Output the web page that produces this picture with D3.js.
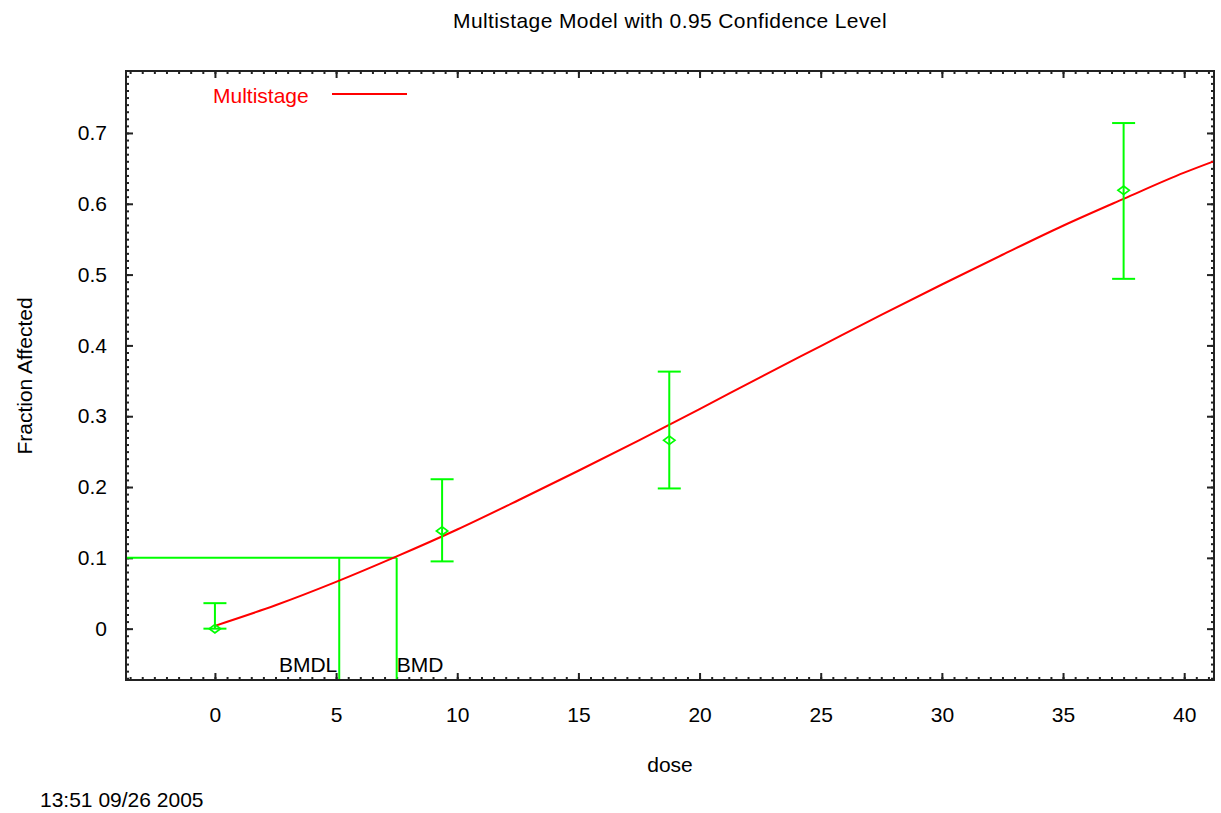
<!DOCTYPE html>
<html>
<head>
<meta charset="utf-8">
<script src="https://cdn.jsdelivr.net/npm/d3@7"></script>
<style>
  body { margin: 0; background: #fff; }
  svg { display: block; }
  text { font-family: "Liberation Sans", Arial, sans-serif; font-size: 21px; fill: #000; }
</style>
</head>
<body>
<svg id="chart" width="1221" height="813"></svg>
<script>
// observed dose groups with 95% confidence limits
const doses = [0, 9.375, 18.75, 37.5];
const observed = [0, 0.138, 0.266, 0.619];
const lowerCI = [0, 0.095, 0.198, 0.494];
const upperCI = [0.036, 0.211, 0.363, 0.714];

// fitted multistage curve
const curveDose = [0, 2.5, 5, 7.5, 10, 12.5, 15, 17.5, 20, 22.5, 25, 27.5, 30, 32.5, 35, 37.5, 40, 41.3];
const curveFrac = [0.004, 0.033, 0.066, 0.102, 0.140, 0.181, 0.223, 0.266, 0.310, 0.355, 0.399, 0.443, 0.486, 0.528, 0.569, 0.607, 0.644, 0.661];

// benchmark values
const bmr = 0.1;
const bmdl = 5.13;
const bmd = 7.5;

const xTicks = [0, 5, 10, 15, 20, 25, 30, 35, 40];
const yTicks = [0, 0.1, 0.2, 0.3, 0.4, 0.5, 0.6, 0.7];

const title = "Multistage Model with 0.95 Confidence Level";
const timestamp = "13:51 09/26 2005";

const margin = { top: 71, left: 126 };
const width = 1088, height = 609;

const svg = d3.select("#chart");

const x = d3.scaleLinear().domain([-3.67, 41.23]).range([0, width]);
const y = d3.scaleLinear().domain([-0.0725, 0.7875]).range([height, 0]);

const g = svg.append("g").attr("transform", `translate(${margin.left},${margin.top})`);

g.append("clipPath").attr("id", "plot-clip")
  .append("rect").attr("width", width).attr("height", height);

// minor ticks on all four sides
const xMinor = d3.range(-3.5, 41.1, 0.5);
const yMinor = d3.range(-7, 79).map(d => d / 100);

function styleAxis(sel) {
  sel.select(".domain").remove();
  sel.selectAll(".tick line").attr("stroke", "#222").attr("stroke-width", 2);
  sel.selectAll(".tick text").attr("fill", "#000").style("font-size", "21px")
    .style("font-family", '"Liberation Sans", Arial, sans-serif');
}

g.append("g").attr("transform", `translate(0,${height})`)
  .call(d3.axisBottom(x).tickValues(xMinor).tickSize(-3).tickFormat(""))
  .call(styleAxis);
g.append("g")
  .call(d3.axisTop(x).tickValues(xMinor).tickSize(-3).tickFormat(""))
  .call(styleAxis);
g.append("g")
  .call(d3.axisLeft(y).tickValues(yMinor).tickSize(-3).tickFormat(""))
  .call(styleAxis);
g.append("g").attr("transform", `translate(${width},0)`)
  .call(d3.axisRight(y).tickValues(yMinor).tickSize(-3).tickFormat(""))
  .call(styleAxis);

// major ticks + labels
g.append("g").attr("transform", `translate(0,${height})`)
  .call(d3.axisBottom(x).tickValues(xTicks).tickSize(-7).tickPadding(27).tickFormat(d3.format("d")))
  .call(styleAxis);
g.append("g")
  .call(d3.axisTop(x).tickValues(xTicks).tickSize(-7).tickFormat(""))
  .call(styleAxis);
g.append("g")
  .call(d3.axisLeft(y).tickValues(yTicks).tickSize(-7).tickPadding(19)
    .tickFormat(d => d === 0 ? "0" : d3.format(".1f")(d)))
  .call(styleAxis);
g.append("g").attr("transform", `translate(${width},0)`)
  .call(d3.axisRight(y).tickValues(yTicks).tickSize(-7).tickFormat(""))
  .call(styleAxis);

const plot = g.append("g").attr("clip-path", "url(#plot-clip)");

// BMD / BMDL guide lines
const green = "#00ff00";
plot.append("line")
  .attr("x1", 0).attr("x2", x(bmd))
  .attr("y1", y(bmr)).attr("y2", y(bmr))
  .attr("stroke", green).attr("stroke-width", 2);
[bmdl, bmd].forEach(v => {
  plot.append("line")
    .attr("x1", x(v)).attr("x2", x(v))
    .attr("y1", y(bmr)).attr("y2", height)
    .attr("stroke", green).attr("stroke-width", 2);
});

// model curve
const curve = curveDose.map((d, i) => ({ dose: d, frac: curveFrac[i] }));
plot.append("path")
  .datum(curve)
  .attr("fill", "none")
  .attr("stroke", "#ff0000")
  .attr("stroke-width", 2)
  .attr("d", d3.line().x(d => x(d.dose)).y(d => y(d.frac)).curve(d3.curveMonotoneX));

// error bars + observed points
const points = doses.map((d, i) => ({ dose: d, obs: observed[i], lo: lowerCI[i], hi: upperCI[i] }));
const cap = 11.5;
const bars = plot.selectAll(".errbar").data(points).join("g").attr("class", "errbar");
bars.append("line")
  .attr("x1", d => x(d.dose)).attr("x2", d => x(d.dose))
  .attr("y1", d => y(d.lo)).attr("y2", d => y(d.hi))
  .attr("stroke", green).attr("stroke-width", 2);
bars.append("line")
  .attr("x1", d => x(d.dose) - cap).attr("x2", d => x(d.dose) + cap)
  .attr("y1", d => y(d.hi)).attr("y2", d => y(d.hi))
  .attr("stroke", green).attr("stroke-width", 2);
bars.append("line")
  .attr("x1", d => x(d.dose) - cap).attr("x2", d => x(d.dose) + cap)
  .attr("y1", d => y(d.lo)).attr("y2", d => y(d.lo))
  .attr("stroke", green).attr("stroke-width", 2);
// marker: wide open diamond
bars.append("path")
  .attr("transform", d => `translate(${x(d.dose)},${y(d.obs)}) scale(1.35,1)`)
  .attr("d", d3.symbol(d3.symbolDiamond2, 45))
  .attr("fill", "none")
  .attr("stroke", green).attr("stroke-width", 1.5);

// frame
g.append("rect")
  .attr("width", width).attr("height", height)
  .attr("fill", "none").attr("stroke", "#222").attr("stroke-width", 2);

// BMD labels
g.append("text").attr("x", x(bmdl) - 2).attr("y", 672 - margin.top)
  .attr("text-anchor", "end").text("BMDL");
g.append("text").attr("x", x(bmd)).attr("y", 672 - margin.top)
  .text("BMD");

// legend
g.append("text").attr("x", 213 - margin.left).attr("y", 103 - margin.top)
  .style("fill", "#ff0000").text("Multistage");
g.append("line")
  .attr("x1", 332 - margin.left).attr("x2", 407 - margin.left)
  .attr("y1", 94 - margin.top).attr("y2", 94 - margin.top)
  .attr("stroke", "#ff0000").attr("stroke-width", 2);

// titles
svg.append("text").attr("x", 670).attr("y", 28)
  .attr("text-anchor", "middle").style("letter-spacing", "0.4px").text(title);
svg.append("text").attr("x", 670).attr("y", 772)
  .attr("text-anchor", "middle").text("dose");
svg.append("text")
  .attr("transform", "translate(32,376) rotate(-90)")
  .attr("text-anchor", "middle").text("Fraction Affected");
svg.append("text").attr("x", 40).attr("y", 807).text(timestamp);
</script>
</body>
</html>
